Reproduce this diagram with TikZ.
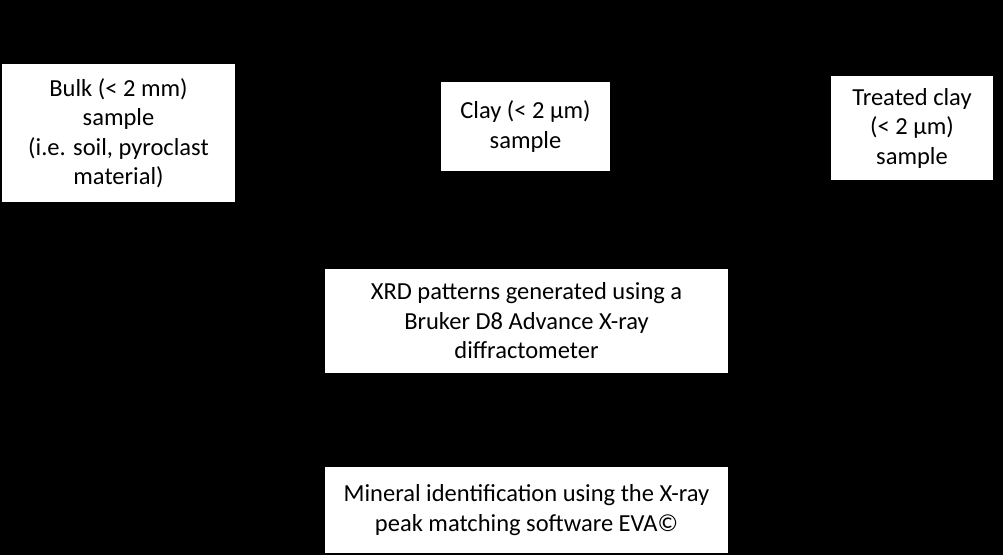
\documentclass[tikz,border=0pt]{standalone}
\usepackage{fontspec}
\setmainfont{Carlito}
\usetikzlibrary{arrows.meta}
\begin{document}
\begin{tikzpicture}[x=1pt,y=-1pt,
  box/.style={fill=white,draw=none,inner sep=0pt,align=center,text=black,
    font=\fontsize{24.5}{29.5}\selectfont},
  conn/.style={draw=black,line width=1pt,-{Stealth[length=10pt,width=8pt]}}]
\fill[black] (0,0) rectangle (1003,555);
\useasboundingbox (0,0) rectangle (1003,555);
\node[box,minimum width=233pt,minimum height=138pt] (bulk) at (118.5,133) {Bulk (< 2 mm)\\sample\\(i.e. soil, pyroclast\\material)};
\node[box,minimum width=169pt,minimum height=89pt] (clay) at (525.5,126.5) {Clay (< 2 µm)\\sample};
\node[box,minimum width=162pt,minimum height=104pt] (treated) at (912,128) {Treated clay\\(< 2 µm)\\sample};
\node[box,minimum width=403pt,minimum height=104pt] (xrd) at (526.5,321) {XRD patterns generated using a\\Bruker D8 Advance X-ray\\diffractometer};
\node[box,minimum width=403pt,minimum height=86pt] (min) at (526.5,510) {Mineral identification using the X-ray\\peak matching software EVA©};
\draw[conn] (bulk) -- (xrd);
\draw[conn] (clay) -- (xrd);
\draw[conn] (treated) -- (xrd);
\draw[conn] (xrd) -- (min);
\end{tikzpicture}
\end{document}
